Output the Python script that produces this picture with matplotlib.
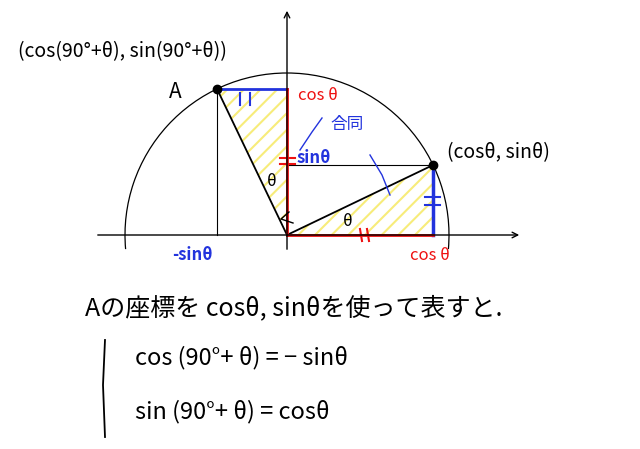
import numpy as np
import matplotlib
matplotlib.use("Agg")
import matplotlib.pyplot as plt
from matplotlib.patches import Polygon, Arc

plt.rcParams['font.family'] = ['Noto Sans CJK JP', 'DejaVu Sans']
plt.rcParams['hatch.linewidth'] = 1.5

theta_deg = [25.6]
radius = [162]
origin = [287, 235]

fig = plt.figure(figsize=(6.4, 4.49), dpi=100)
ax = fig.add_axes([0, 0, 1, 1])
ax.set_xlim(0, 640); ax.set_ylim(449, 0); ax.axis('off')

ox, oy = origin
r = radius[0]
t = np.radians(theta_deg[0])
px, py = ox + r*np.cos(t), oy - r*np.sin(t)
ax_, ay_ = ox - r*np.sin(t), oy - r*np.cos(t)

ax.add_patch(Polygon([[ox, oy], [px, py], [px, oy]], closed=True, facecolor='none',
                     edgecolor='#f7ec7a', hatch='//', lw=0))
ax.add_patch(Polygon([[ox, oy], [ax_, ay_], [ox, ay_]], closed=True, facecolor='none',
                     edgecolor='#f7ec7a', hatch='//', lw=0))

ax.add_patch(Arc((ox, oy), 2*r, 2*r, theta1=-185, theta2=5, color='black', lw=0.9))
ax.annotate('', xy=(522, oy), xytext=(95, oy), arrowprops=dict(arrowstyle='->', lw=1, color='black'))
ax.annotate('', xy=(ox, 8), xytext=(ox, 252), arrowprops=dict(arrowstyle='->', lw=1, color='black'))

ax.plot([ax_, ax_], [ay_, oy], color='black', lw=0.8)
ax.plot([ox, px], [py, py], color='black', lw=0.8)
ax.plot([ox, px], [oy, py], color='black', lw=1.3)
ax.plot([ox, ax_], [oy, ay_], color='black', lw=1.3)
ax.plot([ax_, ox], [ay_, ay_], color='#2233dd', lw=2)
ax.plot([px, px], [py, oy], color='#2233dd', lw=2.5)
ax.plot([ox, ox], [ay_, oy], color='#ee1111', lw=2)
ax.plot([ox, px], [oy, oy], color='#ee1111', lw=2)
ax.plot([ax_], [ay_], 'o', color='black', ms=6)
ax.plot([px], [py], 'o', color='black', ms=6)
ax.plot([293, 281, 289], [223, 219, 212], color='black', lw=1)

# tick marks
ax.plot([240, 240], [93, 105], color='#2233dd', lw=1.5)
ax.plot([250, 250], [93, 105], color='#2233dd', lw=1.5)
ax.plot([425, 440], [197, 197], color='#2233dd', lw=1.5)
ax.plot([425, 440], [205, 205], color='#2233dd', lw=1.5)
ax.plot([280, 295], [158, 158], color='#ee1111', lw=1.5)
ax.plot([280, 295], [164, 164], color='#ee1111', lw=1.5)
ax.plot([360, 362], [229, 241], color='#ee1111', lw=1.5)
ax.plot([367, 369], [229, 241], color='#ee1111', lw=1.5)

ax.text(18, 52, '(cos(90°+θ), sin(90°+θ))', fontsize=14, va='center')
ax.text(175, 92, 'A', fontsize=15, va='center', ha='center')
ax.text(298, 95, 'cos θ', fontsize=12, color='#ee1111', va='center')
ax.text(297, 158, 'sinθ', fontsize=12, color='#2233dd', va='center', fontweight='bold')
ax.text(330, 125, '合同', fontsize=12, color='#2233dd', va='center')
ax.text(272, 182, 'θ', fontsize=12, va='center', ha='center')
ax.text(348, 222, 'θ', fontsize=12, va='center', ha='center')
ax.text(447, 153, '(cosθ, sinθ)', fontsize=14, va='center')
ax.text(172, 255, '-sinθ', fontsize=12, color='#2233dd', va='center', fontweight='bold')
ax.text(410, 255, 'cos θ', fontsize=12, color='#ee1111', va='center')
ax.plot([300, 312, 322], [150, 132, 118], color='#2233dd', lw=1)
ax.plot([370, 382, 390], [155, 175, 195], color='#2233dd', lw=1)

ax.text(85, 308, 'Aの座標を cosθ, sinθを使って表すと.', fontsize=18, va='center')
ax.text(135, 358, 'cos (90°+ θ) = − sinθ', fontsize=17, va='center')
ax.text(135, 412, 'sin (90°+ θ) = cosθ', fontsize=17, va='center')
ax.plot([105, 103, 105], [340, 385, 437], color='black', lw=1.3)

fig.savefig('out.png', dpi=100)
